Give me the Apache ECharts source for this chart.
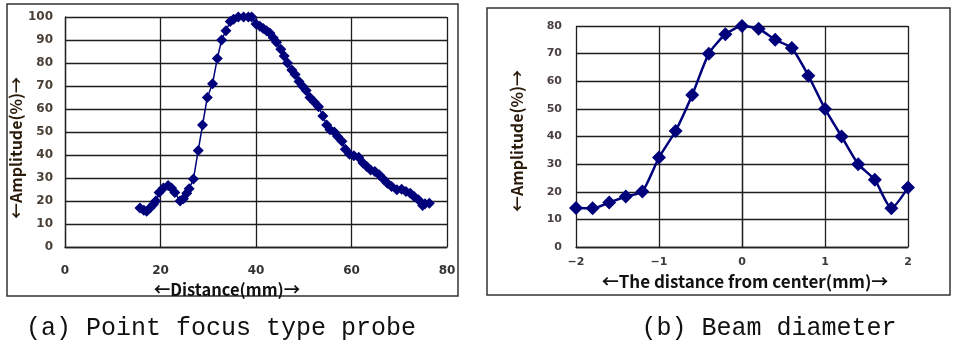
<!DOCTYPE html>
<html><head><meta charset="utf-8">
<script src="https://cdn.jsdelivr.net/npm/echarts@6/dist/echarts.min.js"></script>
<style>html,body{margin:0;padding:0;background:#fff}#c{width:953px;height:347px}</style>
</head><body><div id="c"></div>
<script>
// Panel (a): distance (mm) vs amplitude (%)
const distA = [15.7,16.5,17.1,17.8,18.5,19,19.7,20.6,21.6,22.3,23,24.1,24.8,25.5,26,26.9,27.9,28.8,29.8,30.9,31.9,32.8,33.7,34.6,35.3,36.3,37.4,38.4,39.1,40,40.8,41.5,42.2,42.9,43.6,44.3,45.2,45.9,46.6,47.5,48.2,49,49.7,50.5,51.3,52.2,53.1,54,54.8,55.5,56.4,57.1,58,58.7,59.6,60.5,61.5,62.4,63.2,64,64.9,65.8,66.7,67.5,68.4,69.5,70.5,71.4,72.3,73.1,74,74.9,75.4,76.3];
const ampA  = [17,16,15.5,17,18.5,20,23.7,25.6,26.7,25.6,23.7,20,21,23.4,25.3,29.6,42,53,65,71,82,90,94,98,99,100,100,100,100,97,96,95,94,93,91,89,86,83,80,77,75,72,70,68,65,63,61,57,53,51,50,48,46,42.5,40.3,39.7,39,36.5,35,33.5,32.8,31.4,29.5,27.7,26.3,24.9,25.1,24.1,23.4,22,20.5,18,18.8,19];
// Panel (b): distance from center (mm) vs amplitude (%)
const distB = [-2,-1.8,-1.6,-1.4,-1.2,-1,-0.8,-0.6,-0.4,-0.2,0,0.2,0.4,0.6,0.8,1,1.2,1.4,1.6,1.8,2];
const ampB  = [14.1,14,16.1,18.3,20.1,32.4,42,55,70,77,80,79,75,72,62,50,40,30,24.3,14,21.5];
const titleA = '←Distance(mm)→';
const titleB = '←The distance from center(mm)→';
const yTitle = '←Amplitude(%)→';
const captionA = '(a) Point focus type probe';
const captionB = '(b) Beam diameter';

const pairs = (xs, ys) => xs.map((x, i) => [x, ys[i]]);
const navy = '#00007a';
const titleFont = 'Noto Sans CJK KR';
const gridLine = {show: true, lineStyle: {color: '#1e1e1e', width: 1.3}};
const chart = echarts.init(document.getElementById('c'));
chart.setOption({
  animation: false,
  backgroundColor: '#fff',
  title: [
    {text: captionA, left: 216, top: 311, textAlign: 'center',
     textStyle: {fontFamily: 'Liberation Mono', fontWeight: 'normal', fontSize: 25, color: '#111'}},
    {text: captionB, left: 764, top: 311, textAlign: 'center',
     textStyle: {fontFamily: 'Liberation Mono', fontWeight: 'normal', fontSize: 25, color: '#111'}}
  ],
  graphic: [
    {type: 'rect', shape: {x: 7, y: 4, width: 451, height: 292}, style: {fill: 'none', stroke: '#333', lineWidth: 1.5}, silent: true},
    {type: 'rect', shape: {x: 487, y: 8, width: 463, height: 287}, style: {fill: 'none', stroke: '#333', lineWidth: 1.5}, silent: true}
  ],
  grid: [
    {left: 65, top: 17, width: 382, height: 230},
    {left: 576, top: 26, width: 332, height: 221}
  ],
  xAxis: [
    {gridIndex: 0, type: 'value', min: 0, max: 80, interval: 20,
     name: titleA, nameLocation: 'middle', nameGap: 28,
     nameTextStyle: {fontFamily: titleFont, fontWeight: 'bold', fontSize: 16.5, color: '#111', padding: [0, 58, 0, 0]},
     axisLine: {show: true, lineStyle: {color: '#222', width: 1.3}}, axisTick: {show: false},
     axisLabel: {margin: 18, fontFamily: 'DejaVu Sans', fontWeight: 'bold', fontSize: 12, color: '#333'},
     splitLine: gridLine},
    {gridIndex: 1, type: 'value', min: -2, max: 2, interval: 1,
     name: titleB, nameLocation: 'middle', nameGap: 26,
     nameTextStyle: {fontFamily: titleFont, fontWeight: 'bold', fontSize: 17, color: '#111', padding: [0, 0, 0, 6]},
     axisLine: {show: true, lineStyle: {color: '#222', width: 1.3}}, axisTick: {show: false},
     axisLabel: {margin: 10, fontFamily: 'DejaVu Sans', fontWeight: 'bold', fontSize: 11, color: '#3a3a3a',
       formatter: v => (v < 0 ? '−' + Math.abs(v) : String(v))},
     splitLine: gridLine}
  ],
  yAxis: [
    {gridIndex: 0, type: 'value', min: 0, max: 100, interval: 10,
     name: yTitle, nameLocation: 'middle', nameGap: 34, nameRotate: 90,
     nameTextStyle: {fontFamily: titleFont, fontWeight: 'bold', fontSize: 16, color: '#2a1a0a', padding: [0, 32, 0, 0]},
     axisLine: {show: true, lineStyle: {color: '#222', width: 1.3}}, axisTick: {show: false},
     axisLabel: {margin: 12, fontFamily: 'DejaVu Sans', fontWeight: 'bold', fontSize: 12, color: '#4a3f35'},
     splitLine: gridLine},
    {gridIndex: 1, type: 'value', min: 0, max: 80, interval: 10,
     name: yTitle, nameLocation: 'middle', nameGap: 51, nameRotate: 90,
     nameTextStyle: {fontFamily: titleFont, fontWeight: 'bold', fontSize: 16, color: '#2a1a0a', padding: [0, 9, 0, 0]},
     axisLine: {show: true, lineStyle: {color: '#222', width: 1.3}}, axisTick: {show: false},
     axisLabel: {margin: 14, fontFamily: 'DejaVu Sans', fontWeight: 'bold', fontSize: 11, color: '#4a3f45'},
     splitLine: gridLine}
  ],
  series: [
    {type: 'line', xAxisIndex: 0, yAxisIndex: 0, data: pairs(distA, ampA),
     symbol: 'diamond', symbolSize: 11, showAllSymbol: true,
     lineStyle: {color: navy, width: 1.5}, itemStyle: {color: navy}},
    {type: 'line', xAxisIndex: 1, yAxisIndex: 1, data: pairs(distB, ampB),
     symbol: 'diamond', symbolSize: 14, showAllSymbol: true, smooth: 0.2,
     lineStyle: {color: navy, width: 2.5}, itemStyle: {color: navy}}
  ]
});
</script></body></html>
